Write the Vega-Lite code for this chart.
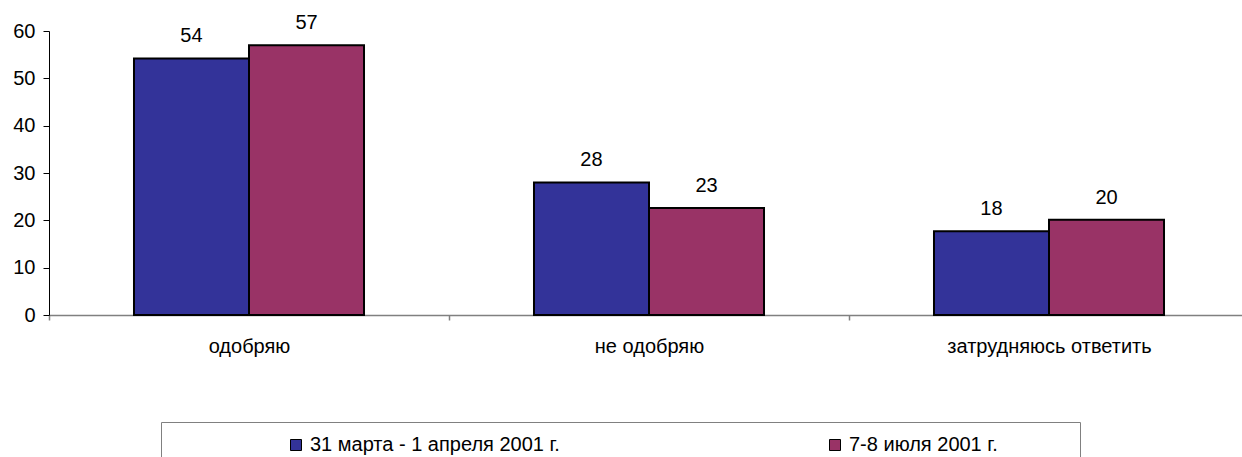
{
  "$schema": "https://vega.github.io/schema/vega-lite/v6.json",
  "autosize": {"type": "none"},
  "width": 1200,
  "height": 284,
  "padding": {"left": 49, "top": 31, "right": 0, "bottom": 142},
  "background": "white",
  "config": {
    "view": {"stroke": null},
    "font": "Liberation Sans",
    "axis": {"labelFont": "Liberation Sans", "labelFontSize": 20, "labelColor": "black", "grid": false, "title": null}
  },
  "data": {
    "values": [
      {"cat": "одобряю", "series": "31 марта - 1 апреля 2001 г.", "value": 54.2, "label": "54"},
      {"cat": "одобряю", "series": "7-8 июля 2001 г.", "value": 57.0, "label": "57"},
      {"cat": "не одобряю", "series": "31 марта - 1 апреля 2001 г.", "value": 28.0, "label": "28"},
      {"cat": "не одобряю", "series": "7-8 июля 2001 г.", "value": 22.6, "label": "23"},
      {"cat": "затрудняюсь ответить", "series": "31 марта - 1 апреля 2001 г.", "value": 17.7, "label": "18"},
      {"cat": "затрудняюсь ответить", "series": "7-8 июля 2001 г.", "value": 20.1, "label": "20"}
    ]
  },
  "encoding": {
    "x": {
      "field": "cat", "type": "nominal", "sort": null,
      "scale": {"paddingInner": 0, "paddingOuter": 0},
      "axis": {"labelAngle": 0, "tickBand": "extent", "domainColor": "#808080", "domainWidth": 1.5, "tickColor": "#808080", "tickWidth": 1.5, "tickSize": 5, "labelPadding": 16, "labelBaseline": "top", "labelFontSize": 20, "labelLimit": 400}
    },
    "xOffset": {"field": "series", "type": "nominal", "sort": null, "scale": {"paddingInner": 0, "paddingOuter": 0.739}},
    "y": {
      "field": "value", "type": "quantitative",
      "scale": {"domain": [0, 60], "nice": false},
      "axis": {"values": [0, 10, 20, 30, 40, 50, 60], "domainColor": "black", "tickColor": "black", "tickSize": 6, "labelPadding": 8, "domainWidth": 1, "tickWidth": 1, "labelFontSize": 20}
    }
  },
  "layer": [
    {
      "mark": {"type": "bar", "stroke": "black", "strokeWidth": 2},
      "encoding": {
        "color": {
          "field": "series", "type": "nominal", "sort": null,
          "scale": {"range": ["#333399", "#993366"]},
          "legend": {
            "orient": "none", "legendX": 112, "legendY": 391, "direction": "horizontal", "columns": 2,
            "title": " ", "titleOrient": "right", "titlePadding": 69, "titleFontSize": 20,
            "symbolType": "square", "symbolSize": 121, "symbolStrokeColor": "black", "symbolStrokeWidth": 1, "symbolOpacity": 1,
            "labelFont": "Liberation Sans", "labelFontSize": 20, "labelColor": "black", "labelOffset": 4, "labelLimit": 400,
            "symbolOffset": 112, "columnPadding": 153,
            "strokeColor": "#808080", "padding": 13, "fillColor": "white"
          }
        }
      }
    },
    {
      "mark": {"type": "text", "baseline": "bottom", "dy": -12, "fontSize": 20, "color": "black"},
      "encoding": {"text": {"field": "label"}}
    }
  ]
}
